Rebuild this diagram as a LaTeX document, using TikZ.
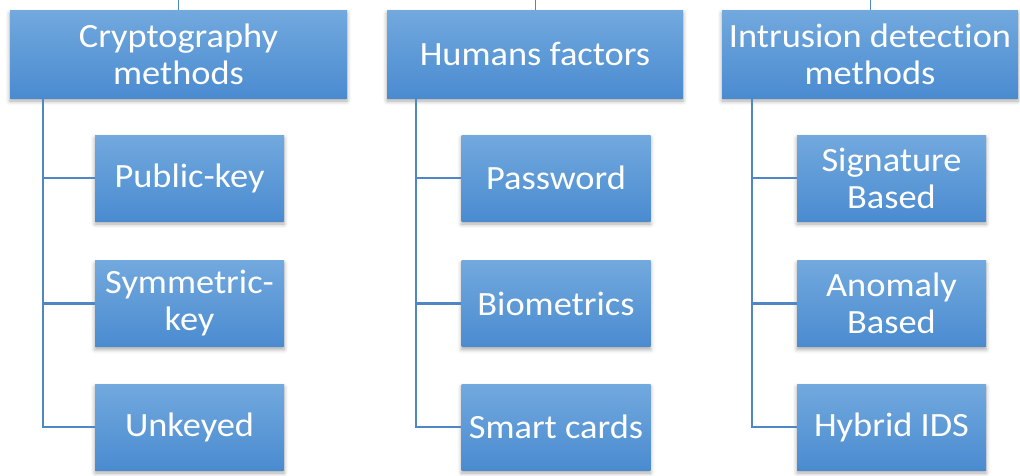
\documentclass[tikz,border=0pt]{standalone}
\usepackage{fontspec}
\setmainfont{Carlito}[FakeStretch=1.07, Ligatures={NoCommon}]
\usetikzlibrary{shadows.blur}
\definecolor{boxtop}{HTML}{72A9DE}
\definecolor{boxbot}{HTML}{4A8BD0}
\definecolor{linkcol}{HTML}{4F86C6}
\tikzset{
  card/.style={rectangle, top color=boxtop, bottom color=boxbot, draw=none,
    text=white, align=center, inner sep=2pt,
    font=\fontsize{34}{37}\selectfont,
    blur shadow={shadow xshift=0pt, shadow yshift=-3pt, shadow blur radius=4pt, shadow opacity=35}},
  head/.style={card, minimum height=88pt},
  leaf/.style={card, minimum width=189pt, minimum height=86pt},
  conn/.style={draw=linkcol, line width=2.4pt}
}
\begin{document}
\begin{tikzpicture}[x=1pt,y=-1pt]
\useasboundingbox (0,0) rectangle (1020,475);

% category headers
\node[head, minimum width=337pt] (H1) at (178.5,54) {Cryptography\\methods};
\node[head, minimum width=296pt] (H2) at (535,54) {Humans factors};
\node[head, minimum width=296pt] (H3) at (870,54) {Intrusion detection\\methods};

% members of each category
\node[leaf] (A1) at (189.5,178) {Public-key};
\node[leaf] (A2) at (189.5,303.5) {Symmetric-\\key};
\node[leaf] (A3) at (189.5,427) {Unkeyed};

\node[leaf] (B1) at (556,178) {Password};
\node[leaf] (B2) at (556,303.5) {Biometrics};
\node[leaf] (B3) at (556,427) {Smart cards};

\node[leaf] (C1) at (891.5,178) {Signature\\Based};
\node[leaf] (C2) at (891.5,303.5) {Anomaly\\Based};
\node[leaf] (C3) at (891.5,427) {Hybrid IDS};

% bus positions and upper edge
\coordinate (busA) at (43,0);
\coordinate (busB) at (416,0);
\coordinate (busC) at (752,0);
\coordinate (edge) at (0,0);

% stubs leaving the headers upwards
\foreach \h in {H1,H2,H3}
  \draw[conn, line width=0.9pt] (\h.north) -- (\h.north |- edge);

% tree connectors
\foreach \p/\b in {H1/busA,H2/busB,H3/busC}
  \coordinate (\p bus) at (\p.south -| \b);
\draw[conn] (H1bus) |- (A3.west);
\draw[conn] (H1bus |- A1.west) -- (A1.west);
\draw[conn] (H1bus |- A2.west) -- (A2.west);
\draw[conn] (H2bus) |- (B3.west);
\draw[conn] (H2bus |- B1.west) -- (B1.west);
\draw[conn] (H2bus |- B2.west) -- (B2.west);
\draw[conn] (H3bus) |- (C3.west);
\draw[conn] (H3bus |- C1.west) -- (C1.west);
\draw[conn] (H3bus |- C2.west) -- (C2.west);
\end{tikzpicture}
\end{document}
